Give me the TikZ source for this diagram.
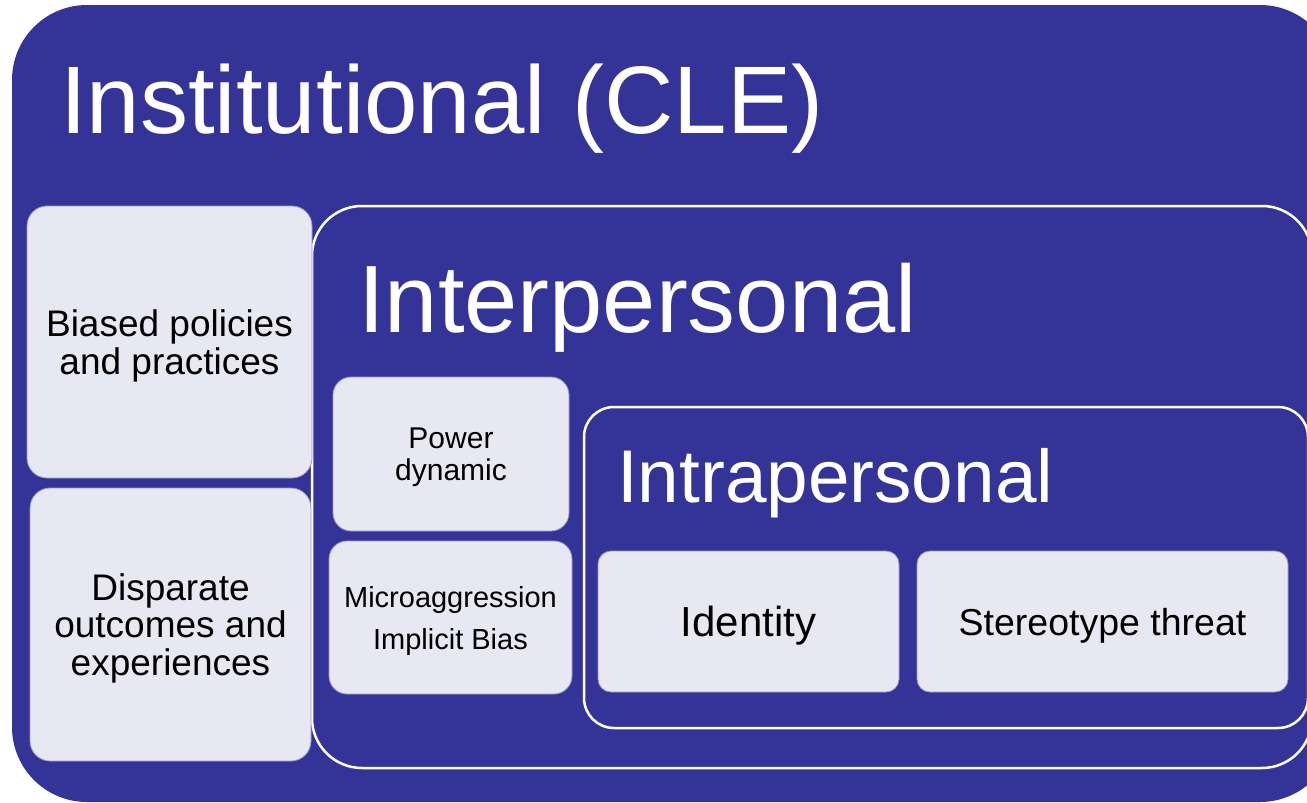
\documentclass[tikz,border=0pt]{standalone}
\usepackage{fontspec}
\setmainfont{Liberation Sans}
\definecolor{cleblue}{RGB}{52,52,152}
\definecolor{boxfill}{RGB}{232,232,242}
\definecolor{boxline}{RGB}{150,150,205}
\begin{document}
\begin{tikzpicture}[x=1pt,y=-1pt,
  frame/.style={draw=white, line width=2.5pt, fill=cleblue, rectangle, inner sep=0pt},
  card/.style={draw=boxline, line width=0.8pt, fill=boxfill, rectangle, inner sep=0pt, align=center, text=black, text depth=0pt},
  title/.style={text=white, inner sep=0pt, anchor=base west}]
\clip (0,0) rectangle (1307,803);
\fill[white] (0,0) rectangle (1307,803);
% outer institutional frame
\node[fill=cleblue, rectangle, rounded corners=75pt, minimum width=1323pt, minimum height=797pt, inner sep=0pt] (inst) at (673.5,403.5) {};
\node[title, font=\fontsize{96}{96}\selectfont] (instT) at (60,133) {Institutional (CLE)};
% interpersonal frame
\node[frame, rounded corners=50pt, minimum width=1000pt, minimum height=562pt] (inter) at (812,487) {};
\node[title, font=\fontsize{95.7}{95.7}\selectfont] (interT) at (358,332) {Interpersonal};
% intrapersonal frame
\node[frame, rounded corners=30pt, minimum width=724pt, minimum height=321pt] (intra) at (946,567.5) {};
\node[title, font=\fontsize{74.7}{74.7}\selectfont] (intraT) at (617,502) {Intrapersonal};
% cards
\node[card, rounded corners=20pt, minimum width=285pt, minimum height=272pt, font=\fontsize{37}{38}\selectfont] (biased) at (169.5,342) {Biased policies\\and practices};
\node[card, rounded corners=20pt, minimum width=281pt, minimum height=273pt, font=\fontsize{37}{37.5}\selectfont] (disp) at (170.5,624.5) {Disparate\\outcomes and\\experiences};
\node[card, rounded corners=18pt, minimum width=236pt, minimum height=154pt, font=\fontsize{30}{32}\selectfont] (power) at (451,454) {Power\\dynamic};
\node[card, rounded corners=18pt, minimum width=243pt, minimum height=153pt, font=\fontsize{29}{42}\selectfont] (micro) at (450.5,617.5) {Microaggression\\Implicit Bias};
\node[card, rounded corners=13pt, minimum width=301pt, minimum height=141pt, font=\fontsize{42}{42}\selectfont] (ident) at (748.5,621.5) {Identity};
\node[card, rounded corners=13pt, minimum width=371pt, minimum height=141pt, font=\fontsize{37.5}{37.5}\selectfont] (stereo) at (1102.5,621.5) {Stereotype threat};
\end{tikzpicture}
\end{document}
